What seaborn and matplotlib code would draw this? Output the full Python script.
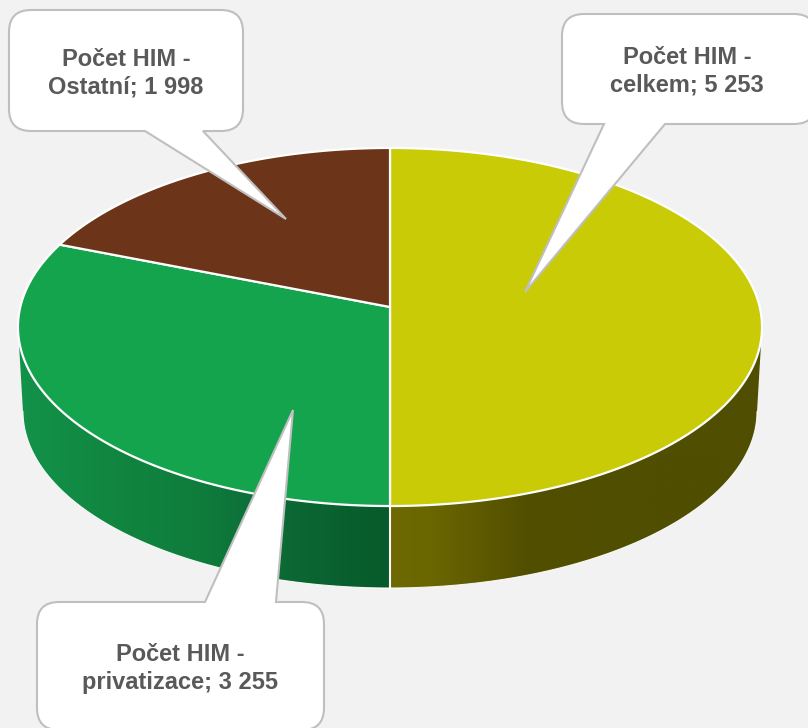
import numpy as np
import matplotlib
matplotlib.use("Agg")
import matplotlib.pyplot as plt
from matplotlib.patches import Polygon, PathPatch
from matplotlib.path import Path
from matplotlib.colors import LinearSegmentedColormap
import seaborn as sns

categories = ["celkem", "privatizace", "Ostatní"]
values = [5253, 3255, 1998]
labels = ["Počet HIM -\ncelkem; 5 253", "Počet HIM -\nprivatizace; 3 255", "Počet HIM -\nOstatní; 1 998"]
top_colors = sns.color_palette(["#C8CB05", "#14A44D", "#6C3418"])
bg = "#F2F2F2"
grad_green = ["#13924A", "#10843F", "#0F7C3C", "#0D7239", "#0B6632", "#075A2B"]
grad_olive = ["#6E6A00", "#6A6600", "#5E5A00", "#524F00", "#504E00", "#504E00"]

sns.set_theme(style="white")
plt.rcParams["font.family"] = ["Liberation Sans", "DejaVu Sans"]

fig = plt.figure(figsize=(8.08, 7.28), dpi=100, facecolor=bg)
ax = fig.add_axes([0, 0, 1, 1])
ax.set_xlim(0, 808)
ax.set_ylim(728, 0)
ax.axis("off")

# perspective projection of the unit disc onto the picture
C, A, B = 0.1117, -142.5, 307.0
CX, RX = 390.0, 369.7


def project(theta, r=1.0):
    """theta: clockwise from 12 o'clock in radians"""
    x, y = r * np.sin(theta), r * np.cos(theta)
    d = C * y + 1
    return CX + RX * x / d, (A * y + B) / d


def project_low(theta):
    px, py = project(theta)
    s = 367.0 / 372.0
    return CX + s * (px - CX), 411.4 + s * (py - 327.0)


fracs = np.array(values) / np.sum(values)
edges = np.concatenate([[0], np.cumsum(fracs)]) * 2 * np.pi

# side wall: visible part runs between the two widest points
th_w = np.pi / 2 + np.arcsin(C)
for lo, hi, stops in [(th_w, np.pi, grad_olive), (np.pi, 2 * np.pi - th_w, grad_green)]:
    t = np.linspace(lo, hi, 200)
    tx, ty = project(t)
    bx, by = project_low(t)
    poly = np.vstack([np.c_[tx, ty], np.c_[bx, by][::-1]])
    patch = Polygon(poly, closed=True, fc="none", ec="none")
    ax.add_patch(patch)
    x0, x1 = poly[:, 0].min(), poly[:, 0].max()
    if stops is grad_olive:
        pos = [0, 0.11, 0.24, 0.36, 0.7, 1]
    else:
        pos = [0, 0.30, 0.49, 0.60, 0.76, 1]
    grad = np.linspace(0, 1, 256)
    cmap = LinearSegmentedColormap.from_list("g", list(zip(pos, stops)))
    im = ax.imshow(grad[None, :], extent=(x0, x1, by.max() + 2, ty.min() - 2), cmap=cmap,
                   aspect="auto", zorder=1)
    im.set_clip_path(patch)
    ax.plot(bx, by, color="white", lw=0.8, zorder=1.5, alpha=0.9)

# divider on the side wall
tx, ty = project(np.pi)
bx, by = project_low(np.pi)
ax.plot([tx, bx], [ty, by], color="white", lw=1.5, zorder=1.6)
ax.set_xlim(0, 808)
ax.set_ylim(728, 0)

# top face
for i, col in enumerate(top_colors):
    t = np.linspace(edges[i], edges[i + 1], 300)
    x, y = project(t)
    pts = np.vstack([[CX, B], np.c_[x, y]])
    ax.add_patch(Polygon(pts, closed=True, fc=col, ec="white", lw=1.6, joinstyle="round", zorder=2))


def callout(x0, y0, x1, y1, r, base, tip, text, tx, ty):
    side = "bottom" if tip[1] > y1 else "top"
    v = [(x0 + r, y0)]
    c = [Path.MOVETO]
    if side == "top":
        v += [(base[0], y0), tip, (base[1], y0)]
        c += [Path.LINETO] * 3
    v += [(x1 - r, y0), (x1, y0), (x1, y0 + r), (x1, y1 - r), (x1, y1), (x1 - r, y1)]
    c += [Path.LINETO, Path.CURVE3, Path.CURVE3, Path.LINETO, Path.CURVE3, Path.CURVE3]
    if side == "bottom":
        v += [(base[1], y1), tip, (base[0], y1)]
        c += [Path.LINETO] * 3
    v += [(x0 + r, y1), (x0, y1), (x0, y1 - r), (x0, y0 + r), (x0, y0), (x0 + r, y0)]
    c += [Path.LINETO, Path.CURVE3, Path.CURVE3, Path.LINETO, Path.CURVE3, Path.CURVE3]
    ax.add_patch(PathPatch(Path(v, c), fc="white", ec="#BFBFBF", lw=1.5, zorder=3))
    ax.text(tx, ty, text, ha="center", va="center", fontsize=17.0, fontweight="bold",
            color="#595959", linespacing=1.26, zorder=4)


callout(562, 14, 816, 124, 22, (604, 665), (525, 292), labels[0], 687, 71.5)
callout(37, 602, 324, 730, 22, (205, 276), (293, 410), labels[1], 180.5, 668.5)
callout(9, 10, 243, 131, 22, (145, 203), (286, 219), labels[2], 126, 73.5)

fig.savefig("out.png", dpi=100, facecolor=bg)
